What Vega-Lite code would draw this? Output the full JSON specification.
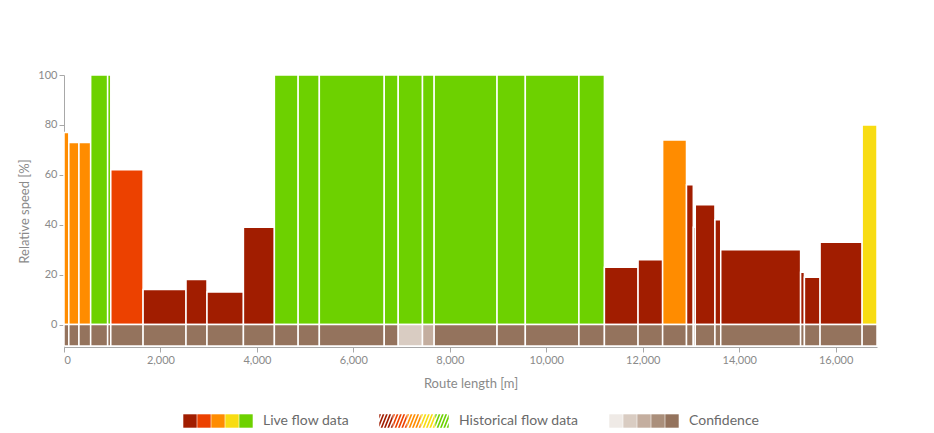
{
  "$schema": "https://vega.github.io/schema/vega-lite/v6.json",
  "width": 813,
  "height": 272,
  "autosize": {"type": "none"},
  "padding": {"left": 64, "top": 75, "right": 57, "bottom": 86},
  "background": "white",
  "datasets": {
    "segments": [
      {"start": 0, "end": 100, "speed": 77, "flow": "moderate", "conf": "very high"},
      {"start": 100, "end": 310, "speed": 73, "flow": "moderate", "conf": "very high"},
      {"start": 310, "end": 553, "speed": 73, "flow": "moderate", "conf": "very high"},
      {"start": 553, "end": 905, "speed": 100, "flow": "free", "conf": "very high"},
      {"start": 905, "end": 970, "speed": 100, "flow": "free", "conf": "very high"},
      {"start": 970, "end": 1640, "speed": 62, "flow": "slow", "conf": "very high"},
      {"start": 1640, "end": 2530, "speed": 14, "flow": "stationary", "conf": "very high"},
      {"start": 2530, "end": 2965, "speed": 18, "flow": "stationary", "conf": "very high"},
      {"start": 2965, "end": 3720, "speed": 13, "flow": "stationary", "conf": "very high"},
      {"start": 3720, "end": 4362, "speed": 39, "flow": "stationary", "conf": "very high"},
      {"start": 4362, "end": 4855, "speed": 100, "flow": "free", "conf": "very high"},
      {"start": 4855, "end": 5294, "speed": 100, "flow": "free", "conf": "very high"},
      {"start": 5294, "end": 6640, "speed": 100, "flow": "free", "conf": "very high"},
      {"start": 6640, "end": 6930, "speed": 100, "flow": "free", "conf": "very high"},
      {"start": 6930, "end": 7433, "speed": 100, "flow": "free", "conf": "low"},
      {"start": 7433, "end": 7675, "speed": 100, "flow": "free", "conf": "medium"},
      {"start": 7675, "end": 8979, "speed": 100, "flow": "free", "conf": "very high"},
      {"start": 8979, "end": 9565, "speed": 100, "flow": "free", "conf": "very high"},
      {"start": 9565, "end": 10677, "speed": 100, "flow": "free", "conf": "very high"},
      {"start": 10677, "end": 11205, "speed": 100, "flow": "free", "conf": "very high"},
      {"start": 11205, "end": 11903, "speed": 23, "flow": "stationary", "conf": "very high"},
      {"start": 11903, "end": 12412, "speed": 26, "flow": "stationary", "conf": "very high"},
      {"start": 12412, "end": 12907, "speed": 74, "flow": "moderate", "conf": "very high"},
      {"start": 12907, "end": 13048, "speed": 56, "flow": "stationary", "conf": "very high"},
      {"start": 13048, "end": 13089, "speed": 39, "flow": "stationary", "conf": "very high"},
      {"start": 13089, "end": 13497, "speed": 48, "flow": "stationary", "conf": "very high"},
      {"start": 13497, "end": 13617, "speed": 42, "flow": "stationary", "conf": "very high"},
      {"start": 13617, "end": 15273, "speed": 30, "flow": "stationary", "conf": "very high"},
      {"start": 15273, "end": 15352, "speed": 21, "flow": "stationary", "conf": "very high"},
      {"start": 15352, "end": 15677, "speed": 19, "flow": "stationary", "conf": "very high"},
      {"start": 15677, "end": 16549, "speed": 33, "flow": "stationary", "conf": "very high"},
      {"start": 16549, "end": 16857, "speed": 80, "flow": "fast", "conf": "very high"}
    ]
  },
  "encoding": {
    "x": {
      "field": "start",
      "type": "quantitative",
      "scale": {"domain": [0, 16857], "nice": false, "zero": false},
      "axis": {
        "title": "Route length [m]",
        "values": [0, 2000, 4000, 6000, 8000, 10000, 12000, 14000, 16000],
        "format": ",d",
        "grid": false
      }
    }
  },
  "layer": [
    {
      "data": {"name": "segments"},
      "mark": {"type": "rect", "stroke": "white", "strokeWidth": 1.5},
      "encoding": {
        "x2": {"field": "end"},
        "y": {
          "field": "speed",
          "type": "quantitative",
          "scale": {"domain": [-9, 100], "nice": false, "zero": false},
          "axis": {"title": "Relative speed [%]", "values": [0, 20, 40, 60, 80, 100], "grid": false}
        },
        "y2": {"datum": 0},
        "color": {
          "field": "flow",
          "type": "nominal",
          "scale": {
            "domain": ["stationary", "slow", "moderate", "fast", "free"],
            "range": ["#A11D00", "#EC4100", "#FF8C00", "#F8DC12", "#6DD100"]
          },
          "legend": {
            "title": null,
            "orient": "bottom",
            "direction": "horizontal",
            "columns": 5,
            "symbolType": "square",
            "symbolSize": 180,
            "symbolStrokeWidth": 0,
            "symbolOpacity": 1,
            "labelOffset": 0,
            "columnPadding": 0,
            "labelExpr": "datum.value == 'free' ? '\u2800Live flow data' : ''"
          }
        }
      }
    },
    {
      "data": {"values": []},
      "mark": {"type": "rect"},
      "encoding": {
        "color": {
          "field": "hist",
          "type": "nominal",
          "scale": {
            "domain": ["stationary", "slow", "moderate", "fast", "free"],
            "range": ["#A11D00", "#EC4100", "#FF8C00", "#F8DC12", "#6DD100"]
          },
          "legend": {
            "title": null,
            "orient": "bottom",
            "direction": "horizontal",
            "columns": 5,
            "symbolType": "M-1,-0.35L-0.74,-1L-1,-1ZM-1,0.9L-0.24,-1L-0.5,-1L-1,0.25ZM-0.8,1L-0.54,1L0.26,-1L0,-1ZM-0.3,1L-0.04,1L0.76,-1L0.5,-1ZM0.2,1L0.46,1L1,-0.35L1,-1ZM0.7,1L0.96,1L1,0.9L1,0.25Z",
            "symbolSize": 180,
            "symbolStrokeWidth": 0,
            "symbolOpacity": 1,
            "labelOffset": 0,
            "columnPadding": 0,
            "labelExpr": "datum.value == 'free' ? '\u2800Historical flow data' : ''"
          }
        }
      }
    },
    {
      "data": {"name": "segments"},
      "mark": {"type": "rect", "stroke": "white", "strokeWidth": 1.5},
      "encoding": {
        "x2": {"field": "end"},
        "y": {"datum": 0, "type": "quantitative"},
        "y2": {"datum": -8.6},
        "color": {
          "field": "conf",
          "type": "ordinal",
          "scale": {
            "domain": ["very low", "low", "medium", "high", "very high"],
            "range": ["#EFEAE6", "#D9CCC2", "#C4AE9F", "#AA8F7B", "#94735D"]
          },
          "legend": {
            "title": null,
            "orient": "bottom",
            "direction": "horizontal",
            "columns": 5,
            "symbolType": "square",
            "symbolSize": 180,
            "symbolStrokeWidth": 0,
            "symbolOpacity": 1,
            "labelOffset": 0,
            "columnPadding": 0,
            "labelExpr": "datum.value == 'very high' ? '\u2800Confidence' : ''"
          }
        }
      }
    }
  ],
  "resolve": {"scale": {"color": "independent"}, "legend": {"color": "independent"}},
  "config": {
    "font": "Lato",
    "view": {"stroke": null},
    "axis": {
      "domainColor": "#A8A8A8",
      "tickColor": "#A8A8A8",
      "labelColor": "#8A8A8A",
      "labelFontSize": 11,
      "titleColor": "#8A8A8A",
      "titleFontSize": 13,
      "titleFontWeight": "normal",
      "tickSize": 5
    },
    "axisY": {"titlePadding": 6},
    "axisX": {"titlePadding": 12},
    "legend": {
      "labelFontSize": 14,
      "labelColor": "#6A6A6A",
      "offset": 24,
      "layout": {"bottom": {"anchor": "middle", "direction": "horizontal", "margin": 30}}
    }
  }
}
